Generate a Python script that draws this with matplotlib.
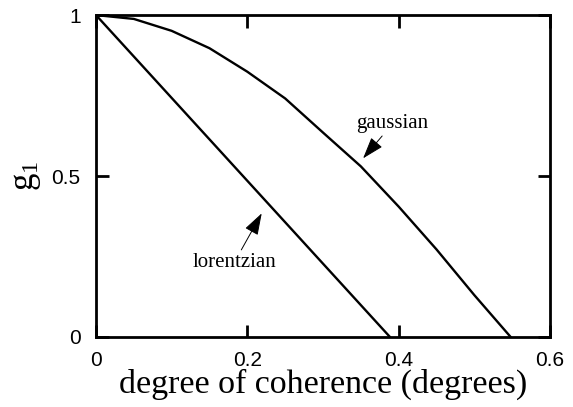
import matplotlib
matplotlib.use("Agg")
import matplotlib.pyplot as plt

# Data
gauss_x = [0.0, 0.05, 0.10, 0.15, 0.20, 0.25, 0.30, 0.35, 0.40, 0.45, 0.50, 0.548]
gauss_y = [1.0, 0.988, 0.951, 0.897, 0.824, 0.741, 0.635, 0.53, 0.405, 0.272, 0.13, 0.0]
lor_x = [0.0, 0.3885]
lor_y = [1.0, 0.0]

xticks = [0, 0.2, 0.4, 0.6]
xtick_labels = ["0", "0.2", "0.4", "0.6"]
yticks = [0, 0.5, 1]
ytick_labels = ["0", "0.5", "1"]

serif = ["Liberation Serif", "DejaVu Serif"]
sans = ["Liberation Sans", "DejaVu Sans"]

fig = plt.figure(figsize=(5.73, 4.07), dpi=100)
ax = fig.add_axes([0.1675, 0.172, 0.7924, 0.791])

ax.plot(gauss_x, gauss_y, color="black", lw=1.7)
ax.plot(lor_x, lor_y, color="black", lw=1.7)

ax.set_xlim(0, 0.6)
ax.set_ylim(0, 1)
ax.set_xticks(xticks)
ax.set_xticklabels(xtick_labels, fontfamily=sans, fontsize=15)
ax.set_yticks(yticks)
ax.set_yticklabels(ytick_labels, fontfamily=sans, fontsize=15)
ax.tick_params(axis="x", direction="in", length=9, width=2, top=True, pad=10)
ax.tick_params(axis="y", direction="in", length=9, width=2, right=True, pad=11)
for s in ax.spines.values():
    s.set_linewidth(2)

ax.set_xlabel("degree of coherence (degrees)", fontfamily=serif, fontsize=24.5, labelpad=-1)
ax.set_ylabel(r"$\mathregular{g_1}$", fontfamily=serif, fontsize=25, labelpad=6)

arrow = dict(arrowstyle="-|>,head_length=0.9,head_width=0.3", color="black", lw=0.7,
             shrinkA=0, shrinkB=0)
ax.annotate("gaussian", xy=(0.353, 0.555), xytext=(0.392, 0.633),
            arrowprops=arrow, fontfamily=serif, fontsize=15, ha="center", va="bottom")
ax.annotate("lorentzian", xy=(0.219, 0.384), xytext=(0.183, 0.262),
            arrowprops=arrow, fontfamily=serif, fontsize=15, ha="center", va="top")

fig.savefig("out.png", dpi=100)
